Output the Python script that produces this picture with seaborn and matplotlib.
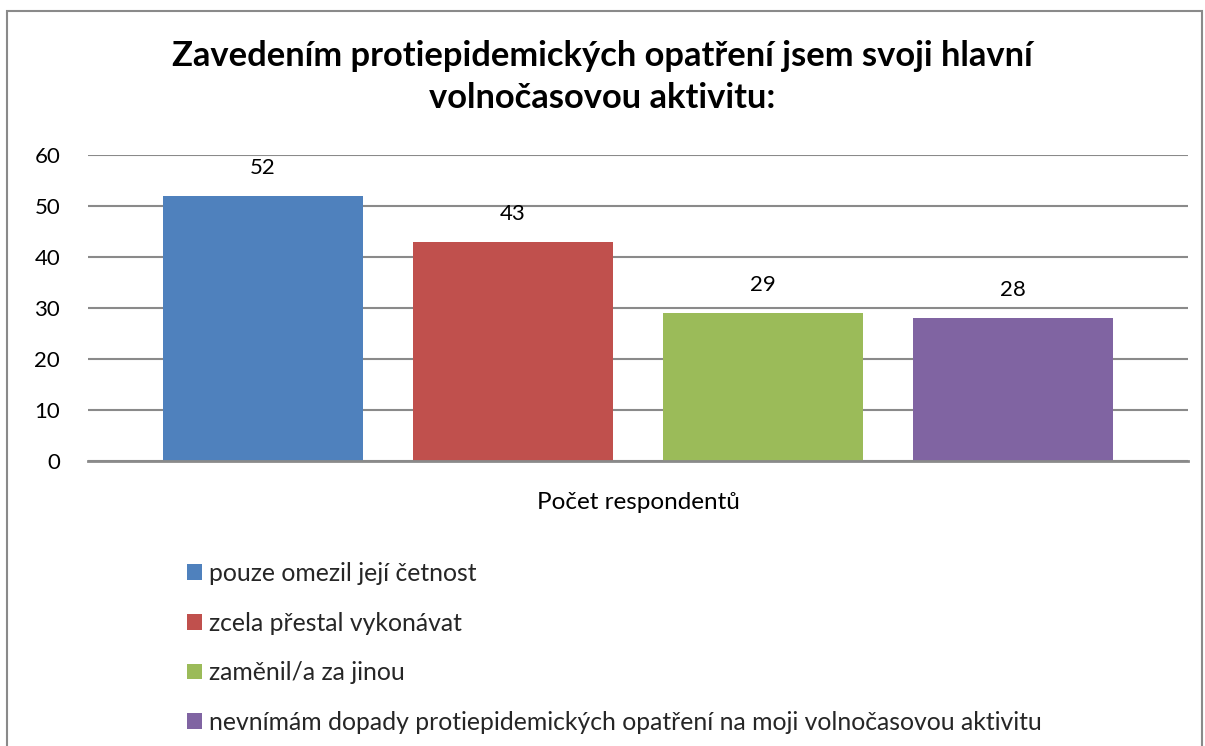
import matplotlib
matplotlib.use("Agg")
import matplotlib.pyplot as plt
import seaborn as sns
import pandas as pd
from matplotlib.patches import Rectangle

categories = [
    "pouze omezil její četnost",
    "zcela přestal vykonávat",
    "zaměnil/a za jinou",
    "nevnímám dopady protiepidemických opatření na moji volnočasovou aktivitu",
]
values = [52, 43, 29, 28]
colors = ["#4F81BD", "#C0504D", "#9BBB59", "#8064A2"]
title = "Zavedením protiepidemických opatření jsem svoji hlavní\nvolnočasovou aktivitu:"
xlabel = "Počet respondentů"
yticks = [0, 10, 20, 30, 40, 50, 60]

sns.set_theme(style="white")
plt.rcParams["font.family"] = ["Lato", "DejaVu Sans"]

W, H = 1205, 746
fig = plt.figure(figsize=(W / 100, H / 100), dpi=100)
fig.patch.set_facecolor("white")

# outer border
fig.add_artist(Rectangle((7 / W, -0.05), (1202 - 7) / W, 1 - 11 / H + 0.05,
                         transform=fig.transFigure, fill=False,
                         edgecolor="#8a8a8a", linewidth=1.5))

ax = fig.add_axes([88 / W, 1 - 461 / H, (1188 - 88) / W, (461 - 155) / H])
df = pd.DataFrame({"cat": categories, "val": values})
sns.barplot(data=df, x="cat", y="val", hue="cat", palette=colors,
            width=0.8, legend=False, ax=ax, saturation=1, linewidth=0)

ax.set_xlim(-0.7, 3.7)
ax.set_ylim(0, 60)
ax.set_yticks(yticks)
ax.set_yticklabels([str(t) for t in yticks], fontsize=16, color="#000000")
ax.tick_params(axis="y", length=0, pad=20)
ax.set_xticks([])
ax.set_xlabel(xlabel, fontsize=17.5, color="#000000", labelpad=22)
ax.set_ylabel("")
ax.yaxis.grid(True, color="#8a8a8a", linewidth=1.5)
ax.set_axisbelow(True)
for s in ["top", "right", "left"]:
    ax.spines[s].set_visible(False)
ax.spines["bottom"].set_color("#8a8a8a")
ax.spines["bottom"].set_linewidth(2)

for p, v in zip(ax.patches, values):
    ax.annotate(str(v), (p.get_x() + p.get_width() / 2, v),
                xytext=(0, 20), textcoords="offset points",
                ha="center", va="center", fontsize=16, color="#000000")

fig.text(0.5, 1 - 77 / H, title, ha="center", va="center", fontsize=24.8,
         fontweight="bold", color="#000000", linespacing=1.36)

handles = [Rectangle((0, 0), 1, 1, facecolor=c, edgecolor="none") for c in colors]
leg = fig.legend(handles, categories, loc="upper left",
                 bbox_to_anchor=(177 / W, 1 - 552 / H), frameon=False,
                 fontsize=17.8, handlelength=0.6, handleheight=0.6,
                 handletextpad=0.3, labelspacing=1.08, borderaxespad=0)

fig.savefig("out.png", dpi=100, facecolor="white")
